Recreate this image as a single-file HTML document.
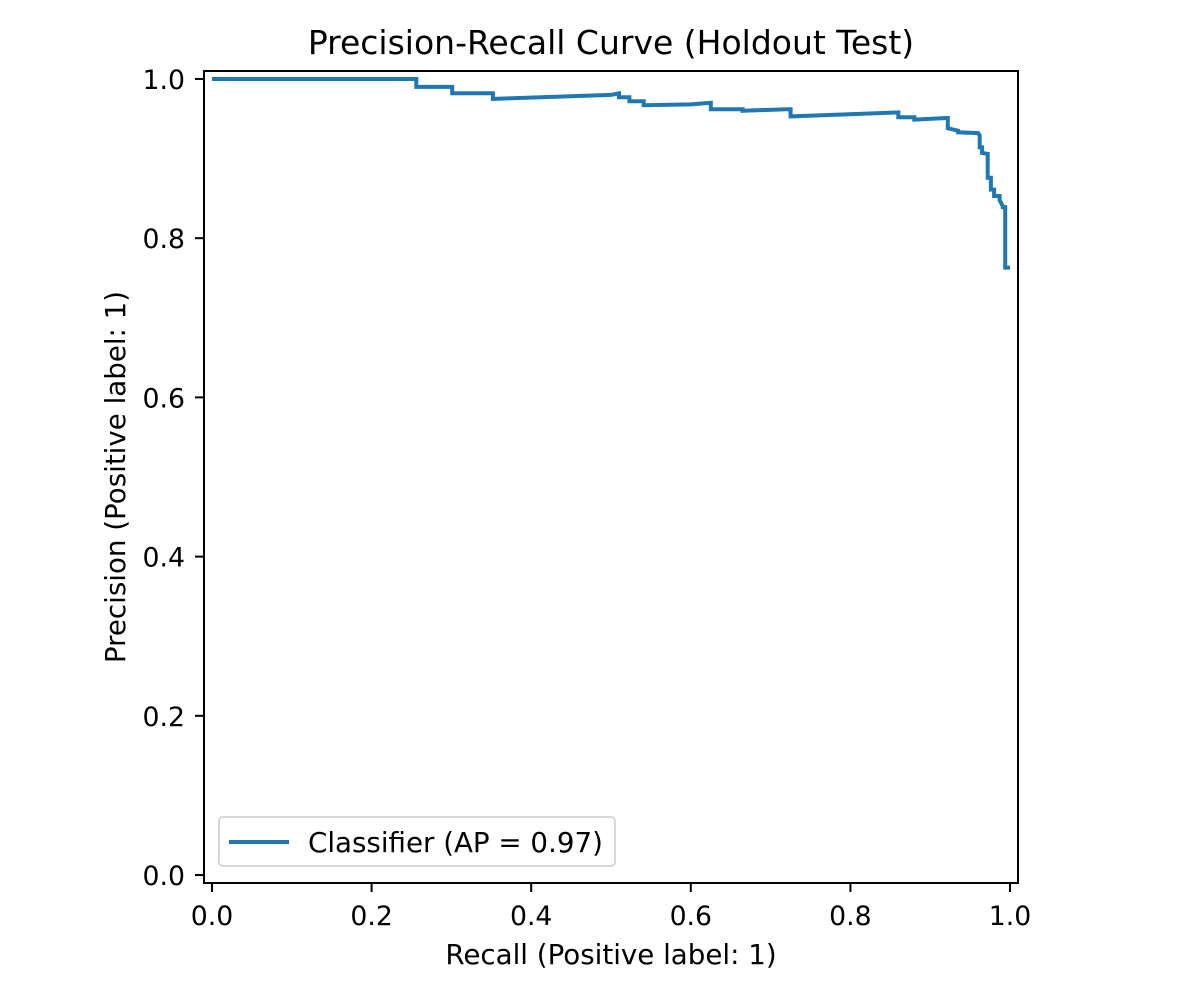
<!DOCTYPE html>
<html><head><meta charset="utf-8"><style>
body{margin:0;background:#fff}
svg text{font-family:"DejaVu Sans","Liberation Sans",sans-serif;fill:#000}
</style></head><body>
<svg id="chart" width="1200" height="1000" xmlns="http://www.w3.org/2000/svg">
<rect width="1200" height="1000" fill="#fff"/>
<text x="611" y="54" font-size="33" text-anchor="middle">Precision-Recall Curve (Holdout Test)</text>
<g id="plot"></g>
<text x="611" y="964" font-size="27.7" text-anchor="middle">Recall (Positive label: 1)</text>
<text transform="translate(125,477) rotate(-90)" font-size="27.7" text-anchor="middle">Precision (Positive label: 1)</text>
</svg>
<script>
const recall=[0,0.256,0.256,0.301,0.301,0.352,0.352,0.50,0.51,0.51,0.523,0.523,0.541,0.541,0.60,0.625,0.625,0.665,0.665,0.72,0.725,0.725,0.86,0.86,0.88,0.88,0.92,0.922,0.922,0.935,0.935,0.96,0.962,0.962,0.965,0.965,0.972,0.972,0.976,0.976,0.98,0.98,0.987,0.987,0.991,0.991,0.994,0.994,1.0];
const precision=[1.0,1.0,0.99,0.99,0.982,0.982,0.975,0.98,0.982,0.977,0.977,0.972,0.972,0.967,0.968,0.97,0.962,0.962,0.96,0.962,0.962,0.953,0.958,0.952,0.952,0.949,0.951,0.951,0.938,0.935,0.933,0.932,0.929,0.914,0.914,0.907,0.906,0.876,0.876,0.861,0.861,0.853,0.853,0.848,0.84,0.839,0.839,0.763,0.763];
const xTicks=[0,0.2,0.4,0.6,0.8,1.0];
const yTicks=[0,0.2,0.4,0.6,0.8,1.0];
const xMin=-0.01,xMax=1.01,yMin=-0.01,yMax=1.01;
const L=204,R=1018,T=71,B=883;
const sx=v=>L+(v-xMin)/(xMax-xMin)*(R-L);
const sy=v=>B-(v-yMin)/(yMax-yMin)*(B-T);
const NS="http://www.w3.org/2000/svg";
const g=document.getElementById('plot');
function mk(tag,attrs){const e=document.createElementNS(NS,tag);for(const k in attrs)e.setAttribute(k,attrs[k]);g.appendChild(e);return e;}
xTicks.forEach(t=>{
  const l=mk('line',{x1:sx(t),x2:sx(t),y1:B,y2:B+9,stroke:'#000','stroke-width':2});
  
  
  const tx=mk('text',{x:sx(t),y:B+42,'font-size':26.7,'text-anchor':'middle'});
  tx.textContent=t.toFixed(1);
  
  
});
yTicks.forEach(t=>{
  const l=mk('line',{x1:L-9,x2:L,y1:sy(t),y2:sy(t),stroke:'#000','stroke-width':2});
  
  
  const tx=mk('text',{x:L-19,y:sy(t)+10,'font-size':26.7,'text-anchor':'end'});
  tx.textContent=t.toFixed(1);
  
  
});
let d='';
recall.forEach((r,i)=>{d+=(i?'L':'M')+sx(r).toFixed(1)+' '+sy(precision[i]).toFixed(1)+' ';});
const p=mk('path',{d:d,fill:'none',stroke:'#1f77b4','stroke-width':4,'stroke-linejoin':'miter'});


const fr=mk('rect',{x:L,y:T,width:R-L,height:B-T,fill:'none',stroke:'#000','stroke-width':2});


const lg=mk('rect',{x:219,y:817,width:396,height:49,rx:4,fill:'#fff','fill-opacity':0.8,stroke:'#ccc','stroke-width':1.5});


const ll=mk('line',{x1:229,x2:289,y1:842,y2:842,stroke:'#1f77b4','stroke-width':4});


const lt=mk('text',{x:308,y:852,'font-size':27.7});
lt.textContent='Classifier (AP = 0.97)';


</script>
</body></html>
